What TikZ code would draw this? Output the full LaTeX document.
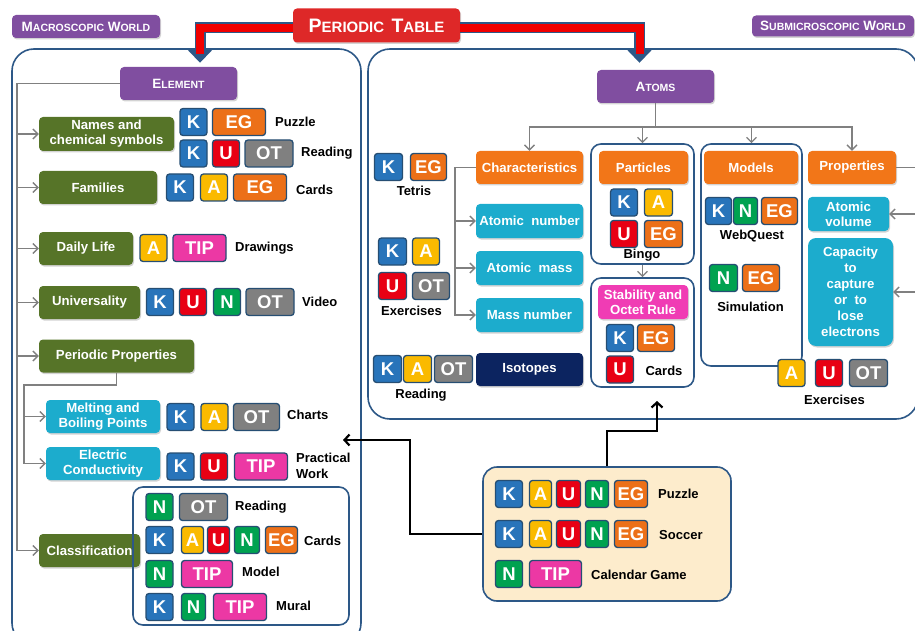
\documentclass[tikz,border=0pt]{standalone}
\usepackage{fontspec}
\setmainfont{Liberation Sans}
\usetikzlibrary{arrows.meta,shadows}

\definecolor{framec}{RGB}{45,88,135}
\definecolor{linkc}{RGB}{128,128,128}
\definecolor{purplec}{RGB}{128,78,160}
\definecolor{titlered}{RGB}{222,40,40}
\definecolor{arrowred}{RGB}{240,0,0}
\definecolor{greenc}{RGB}{86,116,40}
\definecolor{cyanc}{RGB}{28,172,205}
\definecolor{orangec}{RGB}{242,118,24}
\definecolor{navyc}{RGB}{12,36,96}
\definecolor{pinkc}{RGB}{240,60,180}
\definecolor{creamc}{RGB}{253,236,204}
\definecolor{tileedge}{RGB}{38,78,115}
\definecolor{tileK}{RGB}{40,116,186}
\definecolor{tileA}{RGB}{250,186,0}
\definecolor{tileU}{RGB}{232,0,20}
\definecolor{tileN}{RGB}{0,162,80}
\definecolor{tileEG}{RGB}{236,112,24}
\definecolor{tileOT}{RGB}{128,128,128}
\definecolor{tileTIP}{RGB}{236,56,164}

\newcommand{\capword}[2]{{\fontsize{13.5}{13.5}\selectfont #1}{\fontsize{10.5}{10.5}\selectfont #2}}

\tikzset{
  bigframe/.style={draw=framec, line width=1.6pt, rounded corners=22pt},
  groupbox/.style={draw=framec, line width=1.6pt, rounded corners=10pt},
  tbox/.style={rounded corners=4pt, text=white, align=center, inner sep=1pt,
    font=\bfseries\fontsize{13.2}{15}\selectfont, minimum height=33pt,
    drop shadow={opacity=0.35, shadow xshift=1pt, shadow yshift=-1.5pt}},
  greenbox/.style={tbox, fill=greenc},
  cyanbox/.style={tbox, fill=cyanc},
  orangebox/.style={tbox, fill=orangec},
  tile/.style={draw=tileedge, line width=1.3pt, rounded corners=3pt, text=white,
    inner sep=0pt, font=\bfseries\fontsize{18.5}{18.5}\selectfont,
    minimum width=27pt, minimum height=27pt},
  tk/.style={tile, fill=tileK},
  ta/.style={tile, fill=tileA},
  tu/.style={tile, fill=tileU},
  tn/.style={tile, fill=tileN},
  teg/.style={tile, fill=tileEG, minimum width=53pt},
  tot/.style={tile, fill=tileOT, minimum width=48pt},
  ttip/.style={tile, fill=tileTIP, minimum width=53pt},
  lbl/.style={font=\bfseries\fontsize{13}{15.5}\selectfont, inner sep=0pt, align=left},
  link/.style={draw=linkc, line width=1.3pt},
  linkarrow/.style={link, -{Straight Barb[length=5pt,width=10pt]}},
  blackarrow/.style={draw=black, line width=2.2pt, -{Straight Barb[length=5pt,width=11pt]}}
}

\begin{document}
\begin{tikzpicture}[x=1pt, y=-1pt]
\clip (0,0) rectangle (915,631);

% the two worlds
\node[bigframe, minimum width=349pt, minimum height=596pt] (macroframe) at (186.5,347) {};
\node[bigframe, minimum width=550pt, minimum height=370pt] (microframe) at (643,234) {};

\node[tbox, fill=purplec, minimum width=148pt, minimum height=23pt] (macro) at (86,26.5) {\capword{M}{ACROSCOPIC} \capword{W}{ORLD}};
\node[tbox, fill=titlered, minimum width=167pt, minimum height=34pt] (ptable) at (376.5,25.5)
  {{\fontsize{19.5}{19.5}\selectfont P}{\fontsize{15}{15}\selectfont ERIODIC}\ \ {\fontsize{19.5}{19.5}\selectfont T}{\fontsize{15}{15}\selectfont ABLE}};
\node[tbox, fill=purplec, minimum width=162pt, minimum height=21pt] (micro) at (833,26) {\capword{S}{UBMICROSCOPIC} \capword{W}{ORLD}};

% element side
\node[tbox, fill=purplec, minimum width=117pt] (element) at (178.5,83.5) {\capword{E}{LEMENT}};

\node[greenbox, minimum width=135pt, minimum height=34pt] (names) at (106.5,134) {Names and\\chemical symbols};
\node[tk] (namesk) at (193.5,122) {K};
\node[teg] (nameseg) at (239,122) {EG};
\node[lbl, anchor=west] (namespuzzle) at (275,122) {Puzzle};
\node[tk] (namesk2) at (193.5,153.5) {K};
\node[tu] (namesu) at (226,153.5) {U};
\node[tot] (namesot) at (269,153.5) {OT};
\node[lbl, anchor=west] (namesreading) at (301,153) {Reading};

\node[greenbox, minimum width=118pt] (families) at (98,187.5) {Families};
\node[tk] (famk) at (180,187.5) {K};
\node[ta] (fama) at (214,187.5) {A};
\node[teg] (fameg) at (260,187.5) {EG};
\node[lbl, anchor=west] (famcards) at (296,190) {Cards};

\node[greenbox, minimum width=94pt] (daily) at (86,248.5) {Daily Life};
\node[ta] (dailya) at (153.5,248) {A};
\node[ttip] (dailytip) at (199.5,248) {TIP};
\node[lbl, anchor=west] (dailydraw) at (235,248) {Drawings};

\node[greenbox, minimum width=101pt] (univ) at (89.5,302.5) {Universality};
\node[tk] (univk) at (160,302) {K};
\node[tu] (univu) at (193,302) {U};
\node[tn] (univn) at (227,302) {N};
\node[tot] (univot) at (270,302) {OT};
\node[lbl, anchor=west] (univvideo) at (302,302) {Video};

\node[greenbox, minimum width=155pt] (pprop) at (116.5,356) {Periodic Properties};

\node[cyanbox, minimum width=114pt] (melt) at (103,416.5) {Melting and\\Boiling Points};
\node[tk] (meltk) at (180.5,417) {K};
\node[ta] (melta) at (214.5,417) {A};
\node[tot, minimum width=46pt] (meltot) at (256.5,417) {OT};
\node[lbl, anchor=west] (meltcharts) at (287,415) {Charts};

\node[cyanbox, minimum width=114pt] (elec) at (103,463.5) {Electric\\Conductivity};
\node[tk] (eleck) at (180.5,466.5) {K};
\node[tu] (elecu) at (214,466.5) {U};
\node[ttip] (electip) at (261,466.5) {TIP};
\node[lbl, anchor=west] (elecwork) at (296,466) {Practical\\Work};

\node[greenbox, minimum width=101pt] (classif) at (89.5,550.5) {Classification};
\node[groupbox, minimum width=216pt, minimum height=138pt] (classgroup) at (241,556) {};
\node[tn] (clsn1) at (159.5,507) {N};
\node[tot] (clsot1) at (203.5,507) {OT};
\node[lbl, anchor=west] (clsreading) at (235,507) {Reading};
\node[tk] (clsk2) at (159.5,540) {K};
\node[ta, minimum width=22pt] (clsa2) at (192.5,540) {A};
\node[tu, minimum width=22pt] (clsu2) at (218.5,540) {U};
\node[tn, minimum width=25pt] (clsn2) at (247,540) {N};
\node[teg, minimum width=32pt] (clseg2) at (281.5,540) {EG};
\node[lbl, anchor=west] (clscards) at (304,541) {Cards};
\node[tn] (clsn3) at (159.5,574) {N};
\node[ttip, minimum width=51pt] (clstip3) at (207,574) {TIP};
\node[lbl, anchor=west] (clsmodel) at (242,572) {Model};
\node[tk] (clsk4) at (159.5,607) {K};
\node[tn, minimum width=24pt] (clsn4) at (193.5,607) {N};
\node[ttip] (clstip4) at (240,607) {TIP};
\node[lbl, anchor=west] (clsmural) at (276,606) {Mural};

% atoms side
\node[tbox, fill=purplec, minimum width=117pt] (atoms) at (655.5,86.5) {\capword{A}{TOMS}};

\node[tk, minimum width=28pt] (tetk) at (388.5,167) {K};
\node[teg, minimum width=36pt] (teteg) at (428.5,167) {EG};
\node[lbl] (tetris) at (414,191) {Tetris};

\node[orangebox, minimum width=107pt] (charac) at (529.5,167.5) {Characteristics};
\node[cyanbox, minimum width=107pt, minimum height=34pt] (atnum) at (529.5,221) {Atomic\ \ number};
\node[cyanbox, minimum width=107pt, minimum height=34pt] (atmass) at (529.5,268) {Atomic\ \ mass};
\node[cyanbox, minimum width=107pt, minimum height=34pt] (massn) at (529.5,315) {Mass number};
\node[tbox, fill=navyc, minimum width=107pt] (isotopes) at (529.5,369.5) {Isotopes};

\node[tk, minimum width=28pt] (exck) at (392.5,251.5) {K};
\node[ta] (exca) at (426,251.5) {A};
\node[tu, minimum width=28pt] (excu) at (392.5,286) {U};
\node[tot, minimum width=37pt] (excot) at (431,286) {OT};
\node[lbl] (exercises) at (411.5,311) {Exercises};

\node[tk, minimum width=28pt] (readk) at (387.5,369) {K};
\node[ta, minimum width=28pt] (reada) at (417.5,369) {A};
\node[tot, minimum width=38pt] (readot) at (453.5,369) {OT};
\node[lbl] (reading) at (421,395) {Reading};

\node[groupbox, minimum width=103pt, minimum height=120pt] (partgroup) at (642.5,204) {};
\node[orangebox, minimum width=89pt] (partic) at (643.5,167.5) {Particles};
\node[tk] (partk) at (624,202.5) {K};
\node[ta, minimum width=28pt] (parta) at (658.5,202.5) {A};
\node[tu] (partu) at (624,234) {U};
\node[teg, minimum width=38pt] (parteg) at (663.5,234) {EG};
\node[lbl] (bingo) at (642,255) {Bingo};

\node[groupbox, minimum width=103pt, minimum height=109pt] (stabgroup) at (642.5,332.5) {};
\node[tbox, fill=pinkc, minimum width=90pt, minimum height=34pt] (stab) at (643,302) {Stability and\\Octet Rule};
\node[tk] (stabk) at (620,338) {K};
\node[teg, minimum width=37pt] (stabeg) at (656,338) {EG};
\node[tu] (stabu) at (620,369.5) {U};
\node[lbl] (stabcards) at (664,371) {Cards};

\node[groupbox, minimum width=101pt, minimum height=222pt] (modgroup) at (751.5,255) {};
\node[orangebox, minimum width=94pt] (models) at (751,167.5) {Models};
\node[tk, minimum width=26pt] (webk) at (718.5,211) {K};
\node[tn, minimum width=24pt] (webn) at (745.5,211) {N};
\node[teg, minimum width=36pt] (webeg) at (779.5,211) {EG};
\node[lbl] (webquest) at (752,236) {WebQuest};
\node[tn, minimum width=28pt] (simn) at (723.5,278) {N};
\node[teg, minimum width=37pt] (simeg) at (761,278) {EG};
\node[lbl] (simulation) at (750.5,307) {Simulation};

\node[orangebox, minimum width=88pt] (props) at (852,167.5) {Properties};
\node[cyanbox, minimum width=81pt, minimum height=34pt] (avol) at (848.5,214) {Atomic\\volume};
\node[cyanbox, minimum width=85pt, minimum height=108pt, rounded corners=8pt] (capac) at (850.5,292)
  {Capacity\\[1pt]to\\[1pt]capture\\[1pt]or\ \ to\\[1pt]lose\\[1pt]electrons};
\node[ta] (propa) at (791.5,373) {A};
\node[tu] (propu) at (829,373) {U};
\node[tot, minimum width=38pt] (propot) at (868.5,373) {OT};
\node[lbl] (propexercises) at (834.5,400) {Exercises};

% games
\node[groupbox, fill=creamc, rounded corners=14pt, minimum width=248pt, minimum height=134pt] (gamebox) at (607,534) {};
\node[tk] (puzk) at (509,494) {K};
\node[ta, minimum width=22pt] (puza) at (540.5,494) {A};
\node[tu, minimum width=24pt] (puzu) at (568.5,494) {U};
\node[tn, minimum width=23pt] (puzn) at (597,494) {N};
\node[teg, minimum width=33pt] (puzeg) at (631,494) {EG};
\node[lbl, anchor=west] (puzzle) at (658,494) {Puzzle};
\node[tk] (sock) at (509,534) {K};
\node[ta, minimum width=22pt] (soca) at (540.5,534) {A};
\node[tu, minimum width=24pt] (socu) at (568.5,534) {U};
\node[tn, minimum width=23pt] (socn) at (597,534) {N};
\node[teg, minimum width=33pt] (soceg) at (631,534) {EG};
\node[lbl, anchor=west] (soccer) at (659,535) {Soccer};
\node[tn] (caln) at (509,574) {N};
\node[ttip, minimum width=52pt] (caltip) at (555.5,574) {TIP};
\node[lbl, anchor=west] (calendar) at (591,575) {Calendar Game};

% red arrows from the table
\draw[line width=11pt, draw=framec, -{Triangle[length=13pt,width=24pt]}] ([yshift=-2.5pt]ptable.west) -| ([xshift=21.5pt,yshift=4pt]element.north);
\draw[line width=8pt, draw=arrowred, shorten >=9pt] ([yshift=-2.5pt]ptable.west) -| ([xshift=21.5pt,yshift=4pt]element.north);
\draw[line width=11pt, draw=framec, -{Triangle[length=13pt,width=24pt]}] ([yshift=-2.5pt]ptable.east) -| ([xshift=-16pt,yshift=7pt]atoms.north);
\draw[line width=8pt, draw=arrowred, shorten >=9pt] ([yshift=-2.5pt]ptable.east) -| ([xshift=-16pt,yshift=7pt]atoms.north);

% element links
\coordinate (espine) at (17,83.5);
\draw[linkarrow] (element.west) -- (espine) |- (classif.west);
\draw[linkarrow] (espine |- names.west) -- (names.west);
\draw[linkarrow] (espine |- families.west) -- (families.west);
\draw[linkarrow] (espine |- daily.west) -- (daily.west);
\draw[linkarrow] (espine |- univ.west) -- (univ.west);
\draw[linkarrow] (espine |- pprop.west) -- (pprop.west);
\coordinate (pspine) at (24,385);
\draw[linkarrow] (pprop.south) |- (pspine) |- (elec.west);
\draw[linkarrow] (pspine |- melt.west) -- (melt.west);

% atoms links
\coordinate (abus) at (655.5,127);
\draw[link] (atoms.south) -- (abus);
\draw[linkarrow] (abus) -| (charac.north);
\draw[linkarrow] (abus) -| (partgroup.north);
\draw[linkarrow] (abus) -| (modgroup.north);
\draw[linkarrow] (abus) -| (props.north);
\coordinate (cspine) at (455,167.5);
\draw[linkarrow] (charac.west) -- (cspine) |- (massn.west);
\draw[linkarrow] (cspine |- atnum.west) -- (atnum.west);
\draw[linkarrow] (cspine |- atmass.west) -- (atmass.west);
\draw[linkarrow] (partgroup.south) -- (stabgroup.north);
\coordinate (rspine) at (925,167.5);
\draw[link] (props.east) -- (rspine);
\draw[linkarrow] (rspine |- avol.east) -- (avol.east);
\draw[linkarrow] (rspine |- capac.east) -- (capac.east);

% games point to both worlds
\coordinate (macroend) at (343,440);
\coordinate (microend) at (657,401);
\draw[blackarrow] (gamebox.west) -- ++(-72,0) |- (macroend);
\draw[blackarrow] (gamebox.north) -- ++(0,-35) -| (microend);

\end{tikzpicture}
\end{document}
